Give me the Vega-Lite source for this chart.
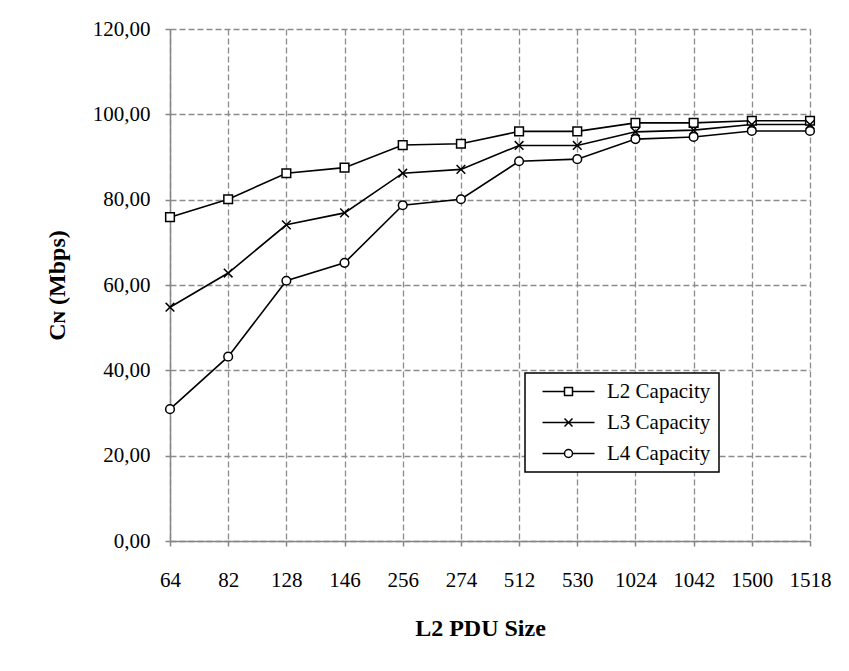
{
  "$schema": "https://vega.github.io/schema/vega-lite/v6.json",
  "width": 640,
  "height": 512,
  "autosize": {"type": "none"},
  "padding": {"left": 170, "top": 29, "right": 39, "bottom": 130},
  "background": "white",
  "config": {
    "locale": {"number": {"decimal": ",", "thousands": ".", "grouping": [3], "currency": ["", ""]}},
    "font": "Liberation Serif",
    "view": {"stroke": null},
    "axis": {
      "labelFont": "Liberation Serif",
      "labelFontSize": 21,
      "labelColor": "black",
      "titleFont": "Liberation Serif",
      "titleFontSize": 24,
      "titleFontWeight": "bold",
      "titleColor": "black",
      "domainColor": "#868686",
      "domainWidth": 1.5,
      "tickColor": "#868686",
      "tickWidth": 1.5,
      "tickSize": 5,
      "gridColor": "#8c8c8c",
      "gridWidth": 1.3,
      "gridDash": [6, 3]
    },
    "legend": {
      "orient": "none",
      "legendX": 355,
      "legendY": 344,
      "strokeColor": "black",
      "strokeWidth": 1.5,
      "fillColor": "white",
      "padding": 8,
      "labelFont": "Liberation Serif",
      "labelFontSize": 21,
      "labelColor": "black",
      "rowPadding": 9,
      "symbolSize": 100,
      "symbolStrokeWidth": 1.5,
      "labelOffset": 53
    }
  },
  "data": {
    "values": [
      {"size": "64", "series": "L2 Capacity", "value": 75.9},
      {"size": "82", "series": "L2 Capacity", "value": 80.1},
      {"size": "128", "series": "L2 Capacity", "value": 86.2},
      {"size": "146", "series": "L2 Capacity", "value": 87.5},
      {"size": "256", "series": "L2 Capacity", "value": 92.8},
      {"size": "274", "series": "L2 Capacity", "value": 93.1},
      {"size": "512", "series": "L2 Capacity", "value": 96.0},
      {"size": "530", "series": "L2 Capacity", "value": 96.0},
      {"size": "1024", "series": "L2 Capacity", "value": 98.0},
      {"size": "1042", "series": "L2 Capacity", "value": 98.0},
      {"size": "1500", "series": "L2 Capacity", "value": 98.5},
      {"size": "1518", "series": "L2 Capacity", "value": 98.5},
      {"size": "64", "series": "L3 Capacity", "value": 54.8},
      {"size": "82", "series": "L3 Capacity", "value": 62.8},
      {"size": "128", "series": "L3 Capacity", "value": 74.1},
      {"size": "146", "series": "L3 Capacity", "value": 76.9},
      {"size": "256", "series": "L3 Capacity", "value": 86.2},
      {"size": "274", "series": "L3 Capacity", "value": 87.1},
      {"size": "512", "series": "L3 Capacity", "value": 92.7},
      {"size": "530", "series": "L3 Capacity", "value": 92.7},
      {"size": "1024", "series": "L3 Capacity", "value": 95.9},
      {"size": "1042", "series": "L3 Capacity", "value": 96.3},
      {"size": "1500", "series": "L3 Capacity", "value": 97.6},
      {"size": "1518", "series": "L3 Capacity", "value": 97.6},
      {"size": "64", "series": "L4 Capacity", "value": 30.9},
      {"size": "82", "series": "L4 Capacity", "value": 43.2},
      {"size": "128", "series": "L4 Capacity", "value": 61.0},
      {"size": "146", "series": "L4 Capacity", "value": 65.2},
      {"size": "256", "series": "L4 Capacity", "value": 78.7},
      {"size": "274", "series": "L4 Capacity", "value": 80.1},
      {"size": "512", "series": "L4 Capacity", "value": 89.0},
      {"size": "530", "series": "L4 Capacity", "value": 89.5},
      {"size": "1024", "series": "L4 Capacity", "value": 94.2},
      {"size": "1042", "series": "L4 Capacity", "value": 94.7},
      {"size": "1500", "series": "L4 Capacity", "value": 96.1},
      {"size": "1518", "series": "L4 Capacity", "value": 96.1}
    ]
  },
  "encoding": {
    "x": {
      "field": "size",
      "type": "ordinal",
      "sort": ["64", "82", "128", "146", "256", "274", "512", "530", "1024", "1042", "1500", "1518"],
      "scale": {"type": "point", "padding": 0},
      "axis": {
        "title": "L2 PDU Size",
        "grid": true,
        "labelAngle": 0,
        "labelBaseline": "alphabetic",
        "labelPadding": 40,
        "titleX": 310,
        "titleY": 94,
        "titleBaseline": "alphabetic",
        "titleAnchor": null
      }
    },
    "y": {
      "field": "value",
      "type": "quantitative",
      "scale": {"domain": [0, 120], "nice": false},
      "axis": {
        "title": "Cɴ (Mbps)",
        "values": [0, 20, 40, 60, 80, 100, 120],
        "format": ".2f",
        "grid": true,
        "labelPadding": 15,
        "titleX": -113,
        "titleY": 256,
        "titleAngle": -90,
        "titleAlign": "center",
        "titleBaseline": "middle"
      }
    }
  },
  "layer": [
    {
      "mark": {"type": "line", "color": "black", "strokeWidth": 1.6},
      "encoding": {"detail": {"field": "series"}}
    },
    {
      "mark": {"type": "point", "filled": true, "fill": "white", "stroke": "black", "strokeWidth": 1.5, "size": 75, "opacity": 1},
      "encoding": {
        "shape": {
          "field": "series",
          "type": "nominal",
          "scale": {
            "domain": ["L2 Capacity", "L3 Capacity", "L4 Capacity"],
            "range": ["square", "M-1,-1L1,1M-1,1L1,-1", "circle"]
          },
          "legend": null
        }
      }
    },
    {
      "transform": [{"filter": "datum.value < 0"}],
      "mark": {"type": "point", "filled": true, "fill": "white", "stroke": "black", "strokeWidth": 1.5, "opacity": 1},
      "encoding": {
        "shape": {
          "field": "series",
          "type": "nominal",
          "scale": {
            "domain": ["L2 Capacity", "L3 Capacity", "L4 Capacity"],
            "range": [
              "M-0.2,0H4.2M5.8,0H10.2M4.2,-0.8H5.8V0.8H4.2Z",
              "M-0.2,0H10.2M4.2,-0.8L5.8,0.8M4.2,0.8L5.8,-0.8",
              "M-0.2,0H4.2M5.8,0H10.2M4.2,0A0.8,0.8 0 1,0 5.8,0A0.8,0.8 0 1,0 4.2,0Z"
            ]
          },
          "legend": {"title": null}
        }
      }
    }
  ],
  "resolve": {"scale": {"shape": "independent"}}
}
